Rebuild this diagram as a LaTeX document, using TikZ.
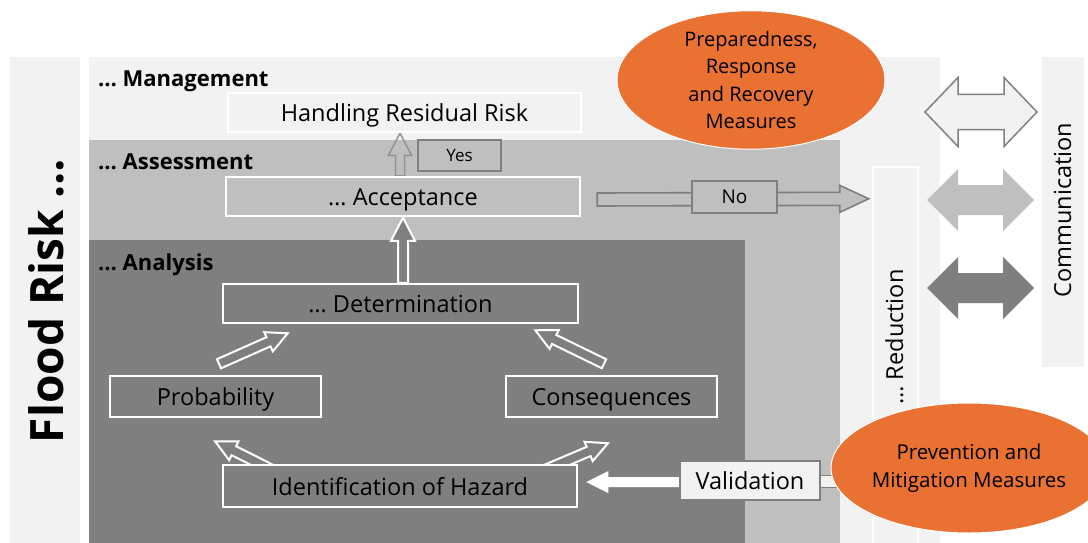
\documentclass[tikz,border=0pt]{standalone}
\usepackage{fontspec}
\setmainfont{Open Sans}
\usetikzlibrary{calc,shapes.geometric}

\pgfdeclarelayer{panels}
\pgfdeclarelayer{arrows}
\pgfsetlayers{panels,arrows,main}

\definecolor{lgray}{HTML}{F2F2F2}
\definecolor{mgray}{HTML}{BFBFBF}
\definecolor{dgray}{HTML}{7F7F7F}
\definecolor{orng}{HTML}{E97132}

% block arrow: #1 style, #2 tail, #3 tip, #4 half shaft, #5 half head, #6 head length
\newcommand\blockarrow[6]{%
  \path let \p1=(#2), \p2=(#3) in \pgfextra{%
    \pgfmathsetmacro\baAng{atan2((\y2)-(\y1),(\x2)-(\x1))}%
    \pgfmathsetmacro\baLen{veclen((\x2)-(\x1),(\y2)-(\y1))}%
    \xdef\baAng{\baAng}\xdef\baLen{\baLen}\xdef\baX{\x1}\xdef\baY{\y1}};
  \draw[#1, shift={(\baX,\baY)}, rotate=\baAng]
    (0pt,#4pt) -- ({(\baLen-#6)*1pt},#4pt) -- ({(\baLen-#6)*1pt},#5pt) -- ({\baLen*1pt},0pt)
    -- ({(\baLen-#6)*1pt},-#5pt) -- ({(\baLen-#6)*1pt},-#4pt) -- (0pt,-#4pt) -- cycle;
}
% horizontal two-headed block arrow, same arguments
\newcommand\twinarrow[6]{%
  \draw[#1] let \p1=(#2), \p2=(#3) in
    (\p1) -- (\x1+#6pt,\y1+#5pt) -- (\x1+#6pt,\y1+#4pt) -- (\x2-#6pt,\y1+#4pt) -- (\x2-#6pt,\y1+#5pt)
    -- (\p2) -- (\x2-#6pt,\y1-#5pt) -- (\x2-#6pt,\y1-#4pt) -- (\x1+#6pt,\y1-#4pt) -- (\x1+#6pt,\y1-#5pt) -- cycle;
}

\begin{document}
\begin{tikzpicture}[x=1pt,y=-1pt,
  every node/.style={font=\fontsize{23.5}{28}\selectfont, text=black, inner sep=0pt},
  boxtext/.style={text height=20pt, text depth=2pt},
  wbox/.style={boxtext, draw=white, line width=2.5pt},
  tagbox/.style={draw=dgray, line width=2.5pt, fill=mgray},
  layerlbl/.style={anchor=base west, font=\fontsize{22}{26}\selectfont\bfseries},
  vlabel/.style={rotate=90, anchor=base},
  blob/.style={ellipse, fill=orng, draw=white, line width=1pt, align=center},
  hollowdark/.style={draw=white, line width=2pt, fill=dgray, line join=miter},
  hollowgray/.style={draw=dgray, line width=1.6pt, fill=mgray},
]
\useasboundingbox (0,0) rectangle (1088,543);

% stacked background panels
\begin{pgfonlayer}{panels}
  \fill[white] (0,0) rectangle (1088,543);
  \fill[lgray] (10,57) rectangle (80,543);
  \fill[lgray] (89,57) rectangle (940,543);
  \fill[mgray] (89,140) rectangle (840,543);
  \fill[dgray] (89,240) rectangle (745,543);
  \fill[lgray] (1042,57) rectangle (1084,367);
\end{pgfonlayer}

% titles
\node[vlabel, font=\fontsize{46}{50}\selectfont\bfseries] (title) at (63,301) {Flood Risk …};
\node[layerlbl] (lblman) at (98,87) {… Management};
\node[layerlbl] (lblass) at (98,169) {… Assessment};
\node[layerlbl] (lblana) at (98,270) {… Analysis};

% process boxes
\node[wbox, fill=lgray, minimum width=353pt, minimum height=39pt] (handle) at (404.5,112.5) {Handling Residual Risk};
\node[wbox, fill=mgray, minimum width=354pt, minimum height=39pt] (accept) at (403,196.5) {… Acceptance};
\node[tagbox, minimum width=83pt, minimum height=31pt, font=\fontsize{17}{20}\selectfont] (yes) at (459.5,155.5) {Yes};
\node[tagbox, minimum width=85pt, minimum height=32pt, font=\fontsize{19}{22}\selectfont] (no) at (734.5,197) {No};
\node[wbox, fill=dgray, minimum width=355pt, minimum height=39pt] (det) at (400.5,303.5) {… Determination};
\node[wbox, fill=dgray, minimum width=211pt, minimum height=41pt] (prob) at (215.5,396.5) {Probability};
\node[wbox, fill=dgray, minimum width=211pt, minimum height=41pt] (cons) at (611.5,396.5) {Consequences};
\node[wbox, fill=dgray, minimum width=354pt, minimum height=42pt] (haz) at (400,486) {Identification of Hazard};
\node[boxtext, draw=dgray, line width=2pt, fill=lgray, minimum width=140pt, minimum height=39pt] (valid) at (750,480.5) {Validation};

% reduction column
\node[wbox, fill=lgray, minimum width=45pt, minimum height=380pt] (red) at (895.5,357) {};
\node[vlabel] (redtxt) at (903,337) {… Reduction};

% communication column
\node[vlabel] (comm) at (1071,210) {Communication};

% arrow end points
\coordinate (noTail) at ($(accept.east)+(16,3)$);
\coordinate (noTip) at ($(red.north west)+(-3,33)$);
\coordinate (pdTail) at ($(prob.north)+(3.5,-11)$);
\coordinate (pdTip) at ($(det.south west)+(66,9)$);
\coordinate (cdTail) at ($(cons.north)+(-7.5,-11)$);
\coordinate (cdTip) at ($(det.south east)+(-44,6)$);
\coordinate (hpTail) at ($(haz.north west)+(62,12)$);
\coordinate (hpTip) at ($(prob.south)+(-0.5,23)$);
\coordinate (hcTail) at ($(haz.north east)+(-47,12)$);
\coordinate (hcTip) at ($(cons.south)+(-3.5,25)$);
\coordinate (vTail) at ($(valid.west)+(0,1.5)$);
\coordinate (vTip) at ($(haz.east)+(8,-4)$);
\coordinate (ca1) at (925,112);  \coordinate (cb1) at (1037,112);
\coordinate (ca2) at (927,200);  \coordinate (cb2) at (1034,200);
\coordinate (ca3) at (927,288);  \coordinate (cb3) at (1034,288);

\begin{pgfonlayer}{arrows}
  \blockarrow{draw=gray!85, line width=1.5pt}{$(accept.north)+(-3,0)$}{$(handle.south)+(-4.5,0)$}{4.5}{11.5}{22}
  \blockarrow{hollowdark}{$(det.north)+(2.5,0)$}{$(accept.south)+(0,0.5)$}{5}{12}{23}
  \blockarrow{hollowgray}{noTail}{noTip}{6.5}{13.5}{29}
  \blockarrow{hollowdark}{pdTail}{pdTip}{5}{10.5}{21}
  \blockarrow{hollowdark}{cdTail}{cdTip}{5}{10.5}{21}
  \blockarrow{hollowdark}{hpTail}{hpTip}{5}{10.5}{21}
  \blockarrow{hollowdark}{hcTail}{hcTip}{5}{10.5}{21}
  \blockarrow{fill=white, draw=none}{vTail}{vTip}{5}{11}{22}
  \draw[draw=dgray, line width=1.2pt, fill=lgray] ($(valid.east)+(-4,-5)$) rectangle ($(valid.east)+(30,7)$);
  \twinarrow{draw=gray, line width=1.5pt, fill=lgray}{ca1}{cb1}{17.5}{34.5}{33}
  \twinarrow{draw=none, fill=mgray}{ca2}{cb2}{15}{31}{31}
  \twinarrow{draw=none, fill=dgray}{ca3}{cb3}{15}{31}{31}
\end{pgfonlayer}

% measures
\node[blob, minimum width=268pt, minimum height=134pt, font=\fontsize{20}{27.5}\selectfont] (prep) at (751,80)
  {Preparedness,\\Response\\and Recovery\\Measures};
\node[blob, minimum width=276pt, minimum height=130pt, font=\fontsize{20.5}{28}\selectfont] (prev) at (969,468)
  {Prevention and\\Mitigation Measures};
\end{tikzpicture}
\end{document}
